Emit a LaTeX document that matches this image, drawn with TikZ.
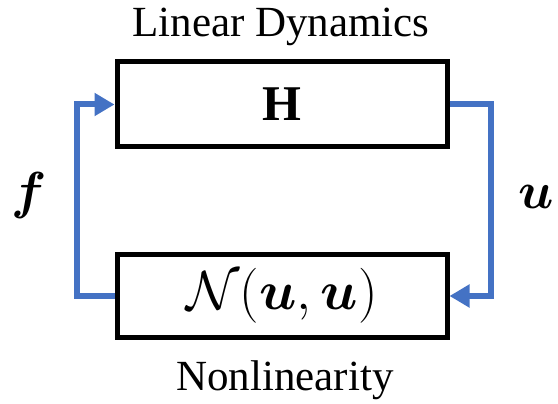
\documentclass[tikz,border=0pt]{standalone}
\usepackage{fix-cm}
\usepackage{amsmath}
\usepackage{bm}
\usepackage{fontspec}
\setmainfont{Liberation Serif}
\usetikzlibrary{positioning, arrows.meta}
\definecolor{flowblue}{HTML}{4472C4}
\tikzset{
  block/.style={rectangle, minimum width=330pt, minimum height=85pt, draw=black, line width=5pt, inner sep=0pt, font=\fontsize{50}{60}\selectfont},
  caption/.style={font=\fontsize{43}{50}\selectfont, inner sep=0pt},
  mathlab/.style={font=\fontsize{52}{60}\selectfont, inner sep=0pt},
  arrow/.style={line width=6pt, draw=flowblue, -{Triangle[length=20pt, width=22pt]}}
}

\begin{document}
\begin{tikzpicture}[x=1pt, y=-1pt]
    \useasboundingbox (0,0) rectangle (558,404);

    % --- Bloques ---
    \node (dyn) [block] at (282,104.5) {$\mathbf{H}$};
    \node (nonlin) [block, minimum height=83pt, font=\fontsize{55}{66}\selectfont] at (282,296) {$\mathcal{N}(\bm{u},\bm{u})$};

    % --- Textos ---
    \node (dyntxt) [caption, anchor=base] at (281,37) {Linear Dynamics};
    \node (nonlintxt) [caption, anchor=base] at (285,390) {Nonlinearity};
    \node (flab) [mathlab] at (29,195) {$\bm{f}$};
    \node (ulab) [mathlab] at (536,197) {$\bm{u}$};

    % --- Conexiones ---
    \draw [arrow] (dyn.east) -- ++(41.5,0) |- (nonlin.east);
    \draw [arrow] (nonlin.west) -- ++(-37.5,0) |- (dyn.west);
\end{tikzpicture}
\end{document}
